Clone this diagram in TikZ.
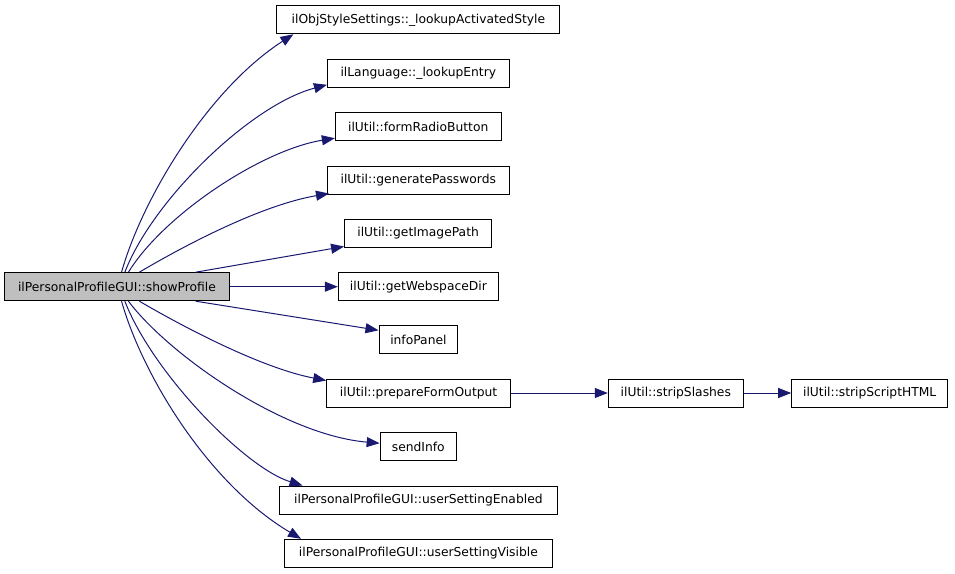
\documentclass[tikz,border=0pt]{standalone}
\usepackage{fontspec}
\setmainfont{DejaVu Sans}
\usetikzlibrary{arrows.meta,calc}
\definecolor{edgeblue}{HTML}{191970}
\definecolor{maingray}{HTML}{BFBFBF}
\begin{document}
\begin{tikzpicture}[x=1pt,y=-1pt,
  box/.style={draw=black,line width=1pt,minimum height=28pt,inner sep=0pt,font=\fontsize{12.3}{14}\selectfont},
  call/.style={draw=edgeblue,line width=1pt,-{Triangle[length=13pt,width=10pt]}}]
\useasboundingbox (0,0) rectangle (955,573);
\node[box,fill=maingray,minimum width=225.3pt] (main) at (117,286.7) {ilPersonalProfileGUI::showProfile};
\node[box,minimum width=283.1pt] (objstyle) at (418.4,19.8) {ilObjStyleSettings::\_lookupActivatedStyle};
\node[box,minimum width=181.7pt] (language) at (418.3,73.3) {ilLanguage::\_lookupEntry};
\node[box,minimum width=165.7pt] (radio) at (418.2,126.7) {ilUtil::formRadioButton};
\node[box,minimum width=181.7pt] (passwords) at (418.3,180) {ilUtil::generatePasswords};
\node[box,minimum width=147.1pt] (imagepath) at (418.1,233) {ilUtil::getImagePath};
\node[box,minimum width=160.2pt] (webspace) at (418.4,286.7) {ilUtil::getWebspaceDir};
\node[box,minimum width=78.8pt] (infopanel) at (418.4,339.8) {infoPanel};
\node[box,minimum width=183.8pt] (prepare) at (418.6,393) {ilUtil::prepareFormOutput};
\node[box,minimum width=76.3pt] (sendinfo) at (418.3,446.7) {sendInfo};
\node[box,minimum width=278.7pt] (enabled) at (418.4,500) {ilPersonalProfileGUI::userSettingEnabled};
\node[box,minimum width=267.8pt] (visible) at (418.4,553.3) {ilPersonalProfileGUI::userSettingVisible};
\node[box,minimum width=135pt] (strip) at (675.8,393) {ilUtil::stripSlashes};
\node[box,minimum width=156pt] (striphtml) at (869.7,393) {ilUtil::stripScriptHTML};
% top edges
\draw[call] ($(main.north west)+(117.7,0)$) .. controls (141.7,200) and (207,90) .. ($(objstyle.south west)+(17,0)$);
\draw[call] ($(main.north west)+(121,0)$) .. controls (152.6,200) and (250.7,105) .. ($(language.south west)+(0,-3)$);
\draw[call] ($(main.north west)+(124.6,0)$) .. controls (163.5,215) and (261.6,150) .. ($(radio.south west)+(0,-3)$);
\draw[call] ($(main.north west)+(135.5,0)$) .. controls (185.3,245) and (261.6,205) .. ($(passwords.south west)+(2,-1)$);
\draw[call] ($(main.north west)+(191.8,0)$) -- ($(imagepath.south west)+(0,-1)$);
\draw[call] (main.east) -- (webspace.west);
% bottom edges
\draw[call] ($(main.south west)+(191.8,0)$) -- ($(infopanel.north west)+(0,5)$);
\draw[call] ($(main.south west)+(135.5,0)$) .. controls (185.3,328) and (261.6,368) .. ($(prepare.north west)+(0,2)$);
\draw[call] ($(main.south west)+(124.6,0)$) .. controls (169,355) and (283.4,435) .. ($(sendinfo.north west)+(0,11)$);
\draw[call] ($(main.south west)+(121,0)$) .. controls (152.6,373) and (245.3,468) .. ($(enabled.north west)+(24,0)$);
\draw[call] ($(main.south west)+(117.7,0)$) .. controls (141.7,373) and (207,483) .. ($(visible.north west)+(17,0)$);
\draw[call] (prepare.east) -- (strip.west);
\draw[call] (strip.east) -- (striphtml.west);
\end{tikzpicture}
\end{document}
